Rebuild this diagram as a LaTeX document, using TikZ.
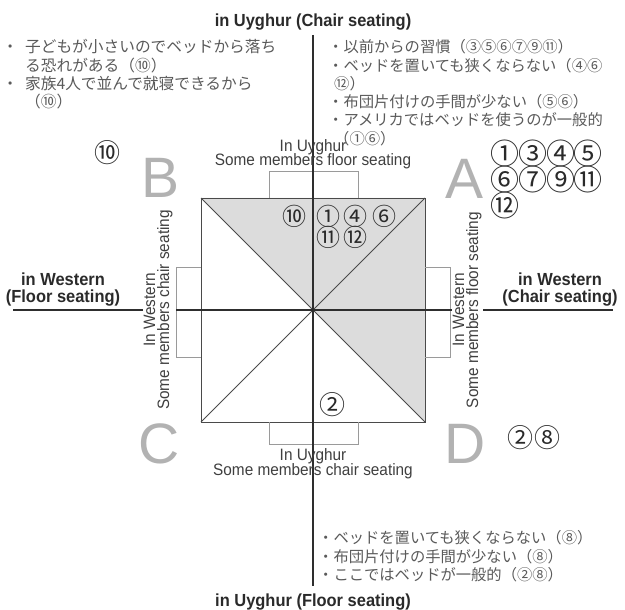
\documentclass[tikz,border=0pt]{standalone}
\usepackage{fontspec}
\setmainfont{Liberation Sans}
\newfontfamily\jpf{Noto Sans CJK JP}
\newfontfamily\condb{Liberation Sans Bold}[FakeStretch=0.94]
\newfontfamily\condr{Liberation Sans}[FakeStretch=0.93]
\definecolor{axisc}{HTML}{2E2E2E}
\definecolor{sqc}{HTML}{4A4A4A}
\definecolor{brkc}{HTML}{9A9A9A}
\definecolor{shadec}{HTML}{DCDCDC}
\definecolor{jpc}{HTML}{5A5A5A}
\definecolor{bigc}{HTML}{B2B2B2}
\definecolor{labc}{HTML}{2A2A2A}
\tikzset{
  axisline/.style={draw=axisc, line width=2.4pt},
  sqline/.style={draw=sqc, line width=0.9pt},
  brk/.style={draw=brkc, line width=0.8pt},
  title/.style={font=\condb\fontsize{17.5}{18}\selectfont, text=labc, inner sep=0pt, anchor=base},
  inlab/.style={font=\condr\fontsize{16.5}{17}\selectfont, text=labc!90, inner sep=0pt, anchor=base},
  jp/.style={font=\jpf\fontsize{15.3}{18}\selectfont, text=jpc, inner sep=0pt, anchor=base west},
  jpb/.style={font=\jpf\fontsize{15.7}{18}\selectfont, text=jpc, inner sep=0pt, anchor=base west},
  big/.style={font=\fontsize{57}{57}\selectfont, text=bigc, inner sep=0pt},
  cnL/.style={font=\jpf\fontsize{29}{29}\selectfont, text=labc, inner sep=0pt},
  cnM/.style={font=\jpf\fontsize{26}{26}\selectfont, text=labc, inner sep=0pt},
  cnS/.style={font=\jpf\fontsize{24}{24}\selectfont, text=labc, inner sep=0pt},
}
\newcommand{\bul}{\makebox[15.3pt][c]{・}}
\begin{document}
\begin{tikzpicture}[x=1pt,y=-1pt]
\useasboundingbox (0,0) rectangle (625,610);
% square corners
\coordinate (TL) at (201,198);
\coordinate (TR) at (425,198);
\coordinate (BR) at (425,422);
\coordinate (BL) at (201,422);
\coordinate (O) at (313,310);
\fill[shadec] (TL) -- (TR) -- (BR) -- (O) -- cycle;
\draw[sqline] (TL) rectangle (BR);
\draw[sqline] (TL) -- (BR);
\draw[sqline] (TR) -- (BL);
% brackets
\coordinate (bt1) at (269,198); \coordinate (bt2) at (269,171);
\coordinate (bt3) at (358,171); \coordinate (bt4) at (358,198);
\draw[brk] (bt1) -- (bt2) -- (bt3) -- (bt4);
\coordinate (bb1) at (269,422); \coordinate (bb2) at (269,444);
\coordinate (bb3) at (358,444); \coordinate (bb4) at (358,422);
\draw[brk] (bb1) -- (bb2) -- (bb3) -- (bb4);
\coordinate (bl1) at (201,267); \coordinate (bl2) at (176,267);
\coordinate (bl3) at (176,357); \coordinate (bl4) at (201,357);
\draw[brk] (bl1) -- (bl2) -- (bl3) -- (bl4);
\coordinate (br1) at (425,267); \coordinate (br2) at (450,267);
\coordinate (br3) at (450,357); \coordinate (br4) at (425,357);
\draw[brk] (br1) -- (br2) -- (br3) -- (br4);
% axes
\coordinate (vt) at (313,35); \coordinate (vb) at (313,586);
\draw[axisline] (vt) -- (vb);
\coordinate (hl1) at (13,310); \coordinate (hl2) at (143,310);
\coordinate (hm1) at (176,310); \coordinate (hm2) at (452,310);
\coordinate (hr1) at (483,310); \coordinate (hr2) at (613,310);
\draw[axisline] (hl1) -- (hl2);
\draw[axisline] (hm1) -- (hm2);
\draw[axisline] (hr1) -- (hr2);
% titles
\node[title] (ttop) at (313,27) {in Uyghur (Chair seating)};
\node[title] (tbot) at (313,606) {in Uyghur (Floor seating)};
\node[title] (tl1) at (63,285) {in Western};
\node[title] (tl2) at (63,302) {(Floor seating)};
\node[title] (tr1) at (560,285) {in Western};
\node[title] (tr2) at (560,302) {(Chair seating)};
% inner labels
\node[inlab] (it1) at (313,151.5) {In Uyghur};
\node[inlab] (it2) at (313,165) {Some members floor seating};
\node[inlab] (ib1) at (313,460.5) {In Uyghur};
\node[inlab] (ib2) at (313,475) {Some members chair seating};
\node[inlab, rotate=90] (il1) at (155,310) {In Western};
\node[inlab, rotate=90] (il2) at (169,310) {Some members chair seating};
\node[inlab, rotate=90] (ir1) at (464,310) {In Western};
\node[inlab, rotate=90] (ir2) at (478,310) {Some members floor seating};
% big letters
\node[big] (A) at (465,179) {A};
\node[big] (B) at (161,178) {B};
\node[big] (C) at (159,444) {C};
\node[big] (D) at (465,444) {D};
% Japanese notes top-left
\node[jpb] (j1) at (2.35,52.8) {\bul\hspace{7.3pt}子どもが小さいのでベッドから落ち};
\node[jpb] (j2) at (25,71.1) {る恐れがある（⑩）};
\node[jpb] (j3) at (2.35,89.4) {\bul\hspace{7.3pt}家族4人で並んで就寝できるから};
\node[jpb] (j4) at (25,107.7) {（⑩）};
% Japanese notes top-right
\node[jp] (k1) at (328,52.8) {\bul 以前からの習慣（③⑤⑥⑦⑨⑪）};
\node[jp] (k2) at (328,71.1) {\bul ベッドを置いても狭くならない（④⑥};
\node[jp] (k3) at (334,89.4) {⑫）};
\node[jp] (k4) at (328,107.7) {\bul 布団片付けの手間が少ない（⑤⑥）};
\node[jp] (k5) at (328,126) {\bul アメリカではベッドを使うのが一般的};
\node[jp] (k6) at (334,144.3) {（①⑥）};
% Japanese notes bottom-right
\node[jp] (m1) at (318,543.8) {\bul ベッドを置いても狭くならない（⑧）};
\node[jp] (m2) at (318,562.3) {\bul 布団片付けの手間が少ない（⑧）};
\node[jp] (m3) at (318,580.8) {\bul ここではベッドが一般的（②⑧）};
% circled numbers
\node[cnM] (n10l) at (107,153) {⑩};
\node[cnL] (a1) at (505,153) {①};
\node[cnL] (a3) at (533,153) {③};
\node[cnL] (a4) at (561,153) {④};
\node[cnL] (a5) at (588,153) {⑤};
\node[cnL] (a6) at (505,179) {⑥};
\node[cnL] (a7) at (533,179) {⑦};
\node[cnL] (a9) at (561,179) {⑨};
\node[cnL] (a11) at (588,179) {⑪};
\node[cnL] (a12) at (505,205) {⑫};
\node[cnS] (s10) at (294,216) {⑩};
\node[cnS] (s1) at (328,216) {①};
\node[cnS] (s4) at (355,216) {④};
\node[cnS] (s6) at (384,216) {⑥};
\node[cnS] (s11) at (328,237) {⑪};
\node[cnS] (s12) at (355,237) {⑫};
\node[cnM] (s2) at (332,405) {②};
\node[cnM] (d2) at (520,438) {②};
\node[cnM] (d8) at (547,438) {⑧};
\end{tikzpicture}
\end{document}
